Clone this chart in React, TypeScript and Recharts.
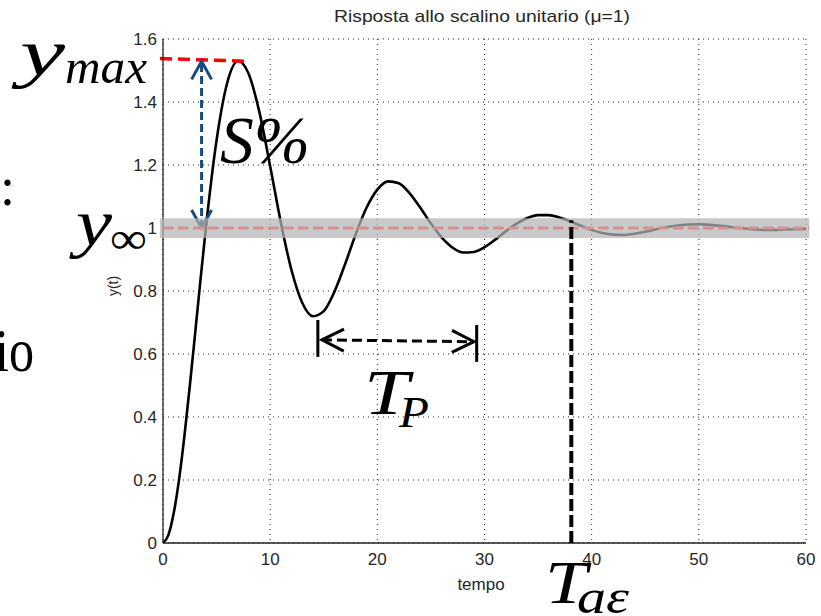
import React from 'react';
import {
    LineChart,
    Line,
    CartesianGrid,
    XAxis,
    YAxis,
    ReferenceLine,
    ReferenceArea
} from 'recharts';

// step response y(t)
const times = [
    0, 0.5, 1, 1.5, 2, 2.5, 3, 3.5, 4, 5, 6, 7, 8, 9, 10, 11, 12, 13, 14, 15, 16, 17, 18, 19, 20,
    21, 22, 23, 24, 25, 26, 27, 28, 29, 30, 31, 32, 33, 34, 35, 36, 37, 38, 39, 40,
    41, 42, 43, 44, 45, 46, 47, 48, 49, 50, 51, 52, 53, 54, 55, 56, 57, 58, 59, 60
];
const response = [
    0, 0.025, 0.095, 0.202, 0.34, 0.498, 0.666, 0.836, 1.0, 1.279, 1.462, 1.53, 1.489, 1.367, 1.196,
    1.017, 0.865, 0.762, 0.72, 0.736, 0.798, 0.886, 0.982, 1.065, 1.122,
    1.148, 1.142, 1.111, 1.065, 1.014, 0.97, 0.938, 0.922, 0.924, 0.939, 0.963, 0.99, 1.014, 1.032,
    1.041, 1.041, 1.033, 1.021, 1.007, 0.994,
    0.984, 0.979, 0.978, 0.982, 0.988, 0.996, 1.003, 1.008, 1.011, 1.012, 1.01, 1.007, 1.003, 0.999,
    0.996, 0.994, 0.994, 0.995, 0.996, 0.998
];

const xTicks = [0, 10, 20, 30, 40, 50, 60];
const yTicks = [0, 0.2, 0.4, 0.6, 0.8, 1, 1.2, 1.4, 1.6];

// annotation values (data units)
const yMax = 1.53;
const yInf = 1;
const bandLow = 0.968;
const bandHigh = 1.031;
const overshootT = 3.6;
const periodStart = 14.45;
const periodEnd = 29.27;
const settleT = 38.1;

const data = times.map((t, i) => ({ t, y: response[i] }));

const tickStyle = { fontFamily: '"Liberation Sans", Arial, sans-serif', fontSize: 17, fill: '#262626' };
const mathFont = '"Liberation Serif", "Times New Roman", serif';

// dashed line with open chevron heads, drawn from the ReferenceLine end points
const arrowShape = (color: string, width: number, dash: string, both: boolean, len: number, half: number) => (p: any) => {
    const { x1, y1, x2, y2 } = p;
    const dx = x2 - x1;
    const dy = y2 - y1;
    const d = Math.sqrt(dx * dx + dy * dy) || 1;
    const ux = dx / d;
    const uy = dy / d;
    const head = (ax: number, ay: number, sx: number, sy: number) =>
        `${ax - len * sx + half * sy},${ay - len * sy - half * sx} ${ax},${ay} ${ax - len * sx - half * sy},${ay - len * sy + half * sx}`;
    return (
        <g>
            <line x1={x1} y1={y1} x2={x2} y2={y2} stroke={color} strokeWidth={width} strokeDasharray={dash} />
            <polyline points={head(x2, y2, ux, uy)} fill="none" stroke={color} strokeWidth={width} />
            {both && <polyline points={head(x1, y1, -ux, -uy)} fill="none" stroke={color} strokeWidth={width} />}
        </g>
    );
};

export default function App() {
    return (
        <div style={{ position: 'absolute', left: 0, top: 0, width: 821, height: 616, overflow: 'hidden', background: '#fff' }}>
            <LineChart width={821} height={616} data={data} margin={{ top: 39, right: 15, bottom: 0, left: 0 }}>
                <CartesianGrid stroke="#222" strokeDasharray="1 4" />
                <XAxis
                    dataKey="t"
                    type="number"
                    domain={[0, 60]}
                    ticks={xTicks}
                    height={73}
                    tickLine={false}
                    tickSize={6}
                    tickMargin={4}
                    axisLine={{ stroke: '#222', strokeWidth: 1.3 }}
                    tick={tickStyle}
                />
                <YAxis
                    type="number"
                    domain={[0, 1.6]}
                    ticks={yTicks}
                    width={163}
                    tickLine={false}
                    tickSize={6}
                    tickMargin={0}
                    axisLine={{ stroke: '#222', strokeWidth: 1.3 }}
                    tick={tickStyle}
                />
                <Line type="monotone" dataKey="y" stroke="#000" strokeWidth={2.6} dot={false} isAnimationActive={false} />

                {/* y_max marker */}
                <ReferenceLine
                    segment={[{ x: -0.28, y: yMax + 0.008 }, { x: 8.12, y: yMax - 0.001 }]}
                    stroke="#ff0000"
                    strokeWidth={3.5}
                    strokeDasharray="12 6"
                    ifOverflow="visible"
                />
                {/* overshoot arrow */}
                <ReferenceLine
                    segment={[{ x: overshootT, y: yInf }, { x: overshootT, y: yMax - 0.001 }]}
                    ifOverflow="visible"
                    shape={arrowShape('#174a7c', 3, '8 4', true, 18, 10)}
                />
                {/* steady-state band */}
                <ReferenceArea
                    x1={-0.28}
                    x2={60.3}
                    y1={bandLow}
                    y2={bandHigh}
                    fill="#b4b4b4"
                    fillOpacity={0.72}
                    stroke="none"
                    ifOverflow="visible"
                    zIndex={900}
                />
                <ReferenceLine
                    segment={[{ x: 0, y: yInf }, { x: 60.3, y: yInf }]}
                    stroke="#d4918f"
                    strokeWidth={3}
                    strokeDasharray="10 5"
                    ifOverflow="visible"
                    zIndex={950}
                />
                {/* period arrow */}
                <ReferenceLine
                    segment={[{ x: periodStart, y: 0.708 }, { x: periodStart, y: 0.591 }]}
                    stroke="#000"
                    strokeWidth={3}
                    ifOverflow="visible"
                />
                <ReferenceLine
                    segment={[{ x: periodEnd, y: 0.692 }, { x: periodEnd, y: 0.575 }]}
                    stroke="#000"
                    strokeWidth={3}
                    ifOverflow="visible"
                />
                <ReferenceLine
                    segment={[{ x: 14.83, y: 0.645 }, { x: 29.01, y: 0.639 }]}
                    ifOverflow="visible"
                    shape={arrowShape('#000', 3, '10 5', true, 22, 11)}
                />
                {/* settling time */}
                <ReferenceLine
                    segment={[{ x: settleT, y: 0 }, { x: settleT, y: 1.025 }]}
                    stroke="#000"
                    strokeWidth={4}
                    strokeDasharray="12 4"
                    ifOverflow="visible"
                    zIndex={960}
                />
            </LineChart>

            <svg
                width={821}
                height={616}
                style={{ position: 'absolute', left: 0, top: 0, pointerEvents: 'none', overflow: 'hidden' }}
            >
                <text x={482} y={22} textAnchor="middle" textLength={296} lengthAdjust="spacingAndGlyphs" style={{ ...tickStyle, fontSize: 17 }}>
                    Risposta allo scalino unitario (μ=1)
                </text>
                <text x={481} y={590} textAnchor="middle" style={{ ...tickStyle, fontSize: 17 }}>
                    tempo
                </text>
                <text transform="translate(118,286) rotate(-90)" textAnchor="middle" style={{ ...tickStyle, fontSize: 14 }}>
                    y(t)
                </text>

                {/* slide text cut off at the left edge */}
                <text x={0} y={205} fontFamily={mathFont} fontSize={54} fill="#000">:</text>
                <text x={-5} y={371} fontFamily={mathFont} fontSize={62} fill="#000" textLength={39} lengthAdjust="spacingAndGlyphs">io</text>

                <text x={20} y={75} fontFamily={mathFont} fontStyle="italic" fontSize={66} textLength={45} lengthAdjust="spacingAndGlyphs">y</text>
                <text x={65} y={83} fontFamily={mathFont} fontStyle="italic" fontSize={48} textLength={82} lengthAdjust="spacingAndGlyphs">max</text>

                <text x={220} y={163} fontFamily={mathFont} fontStyle="italic" fontSize={68} textLength={90} lengthAdjust="spacingAndGlyphs">S%</text>

                <text x={76} y={245} fontFamily={mathFont} fontStyle="italic" fontSize={66} textLength={36} lengthAdjust="spacingAndGlyphs">y</text>
                <text x={110} y={253} fontFamily={mathFont} fontSize={44} textLength={37} lengthAdjust="spacingAndGlyphs">∞</text>

                <text x={364} y={414} fontFamily={mathFont} fontStyle="italic" fontSize={64} textLength={45} lengthAdjust="spacingAndGlyphs">T</text>
                <text x={399} y={427} fontFamily={mathFont} fontStyle="italic" fontSize={44} textLength={30} lengthAdjust="spacingAndGlyphs">P</text>

                <text x={545} y={603} fontFamily={mathFont} fontStyle="italic" fontSize={62} textLength={42} lengthAdjust="spacingAndGlyphs">T</text>
                <text x={577} y={613} fontFamily={mathFont} fontStyle="italic" fontSize={48} textLength={52} lengthAdjust="spacingAndGlyphs">aε</text>
            </svg>
        </div>
    );
}
